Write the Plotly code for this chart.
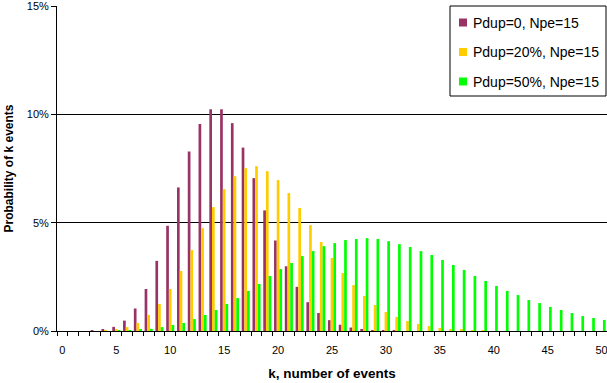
import plotly.graph_objects as go

# number of events k
k_values = list(range(0, 51))

# Probability (%) of k events
p_dup0 = [0, 0, 0, 0.02, 0.06, 0.19, 0.48, 1.04, 1.94, 3.24,
          4.86, 6.63, 8.29, 9.56, 10.24, 10.24, 9.60, 8.47, 7.06, 5.57,
          4.18, 2.99, 2.04, 1.33, 0.83, 0.50, 0.29, 0.16, 0.09, 0.04,
          0.02, 0.01, 0, 0, 0, 0, 0, 0, 0, 0,
          0, 0, 0, 0, 0, 0, 0, 0, 0, 0, 0]
p_dup20 = [0, 0, 0, 0, 0.01, 0.05, 0.18, 0.37, 0.74, 1.25,
           1.94, 2.77, 3.74, 4.75, 5.72, 6.55, 7.15, 7.52, 7.61, 7.38,
           6.97, 6.37, 5.68, 4.89, 4.11, 3.37, 2.68, 2.12, 1.62, 1.20,
           0.88, 0.65, 0.46, 0.32, 0.23, 0.14, 0.09, 0.05, 0.03, 0.01,
           0, 0, 0, 0, 0, 0, 0, 0, 0, 0, 0]
p_dup50 = [0, 0, 0, 0, 0, 0.01, 0.03, 0.05, 0.10, 0.18,
           0.28, 0.37, 0.55, 0.74, 0.97, 1.25, 1.52, 1.85, 2.17, 2.54,
           2.86, 3.14, 3.46, 3.69, 3.92, 4.06, 4.20, 4.25, 4.29, 4.25,
           4.15, 4.01, 3.88, 3.69, 3.51, 3.28, 3.05, 2.82, 2.54, 2.31,
           2.08, 1.85, 1.66, 1.43, 1.29, 1.11, 0.97, 0.83, 0.69, 0.60, 0.51]

series_names = ["Pdup=0, Npe=15", "Pdup=20%, Npe=15", "Pdup=50%, Npe=15"]
series_colors = ["#993366", "#FFCC00", "#00FF00"]
series_values = [p_dup0, p_dup20, p_dup50]

x_tick_vals = list(range(0, 51, 5))
y_tick_vals = [0, 5, 10, 15]
y_tick_text = ["0%", "5%", "10%", "15%"]

FONT = "Liberation Sans, Arial, sans-serif"

fig = go.Figure()
for name, color, vals in zip(series_names, series_colors, series_values):
    fig.add_bar(x=k_values, y=vals, name=name, marker_color=color,
                marker_line_width=0, showlegend=False)

# plot area geometry in pixels (for the hand-drawn legend box)
L, R, T, B = 57, 607, 6, 331
W, H = R - L, B - T
def px(x):
    return (x - L) / W
def py(y):
    return (B - y) / H

shapes = [dict(type="rect", xref="paper", yref="paper",
               x0=px(450), x1=px(606), y0=py(96), y1=py(6),
               line=dict(color="black", width=1), fillcolor="white", layer="above")]
annotations = []
row_centers = [22.5, 52, 81.5]
for name, color, yc in zip(series_names, series_colors, row_centers):
    shapes.append(dict(type="rect", xref="paper", yref="paper",
                       x0=px(459), x1=px(467), y0=py(yc + 4), y1=py(yc - 4),
                       line=dict(width=0), fillcolor=color, layer="above"))
    annotations.append(dict(text=name, xref="paper", yref="paper",
                            x=px(471), y=py(yc), xanchor="left", yanchor="middle",
                            showarrow=False, font=dict(family=FONT, size=14, color="black")))

fig.update_layout(
    width=607, height=383,
    margin=dict(l=L, r=607 - R, t=T, b=383 - B, autoexpand=False),
    paper_bgcolor="white", plot_bgcolor="white",
    barmode="group", bargap=0.25, bargroupgap=0,
    font=dict(family=FONT, color="black"),
    shapes=shapes, annotations=annotations,
    xaxis=dict(
        range=[-0.5, 50.5], tickmode="array", tickvals=x_tick_vals,
        ticks="", showline=True, linecolor="black", linewidth=1,
        showgrid=False, zeroline=False,
        tickfont=dict(size=11, family=FONT, color="black"),
        ticklabelstandoff=9, ticklabeloverflow="allow",
        minor=dict(tickmode="linear", tick0=-0.5, dtick=1, ticks="outside",
                   ticklen=4, tickcolor="black", tickwidth=1, showgrid=False),
        title=dict(text="k, number of events", standoff=13,
                   font=dict(size=13.5, family=FONT, color="black", weight="bold")),
        automargin=False,
    ),
    yaxis=dict(
        range=[0, 15.01], tickmode="array", tickvals=y_tick_vals, ticktext=y_tick_text,
        ticks="outside", ticklen=5, tickcolor="black",
        showline=True, linecolor="black", linewidth=1,
        showgrid=True, gridcolor="black", gridwidth=1, zeroline=False,
        tickfont=dict(size=11, family=FONT, color="black"),
        ticklabeloverflow="allow",
        title=dict(text="Probability of k events", standoff=10,
                   font=dict(size=12, family=FONT, color="black", weight="bold")),
        automargin=False,
    ),
)

fig.write_html("out.html", config={"displayModeBar": False},
               post_script="document.body.style.margin='0';document.body.style.overflow='hidden';")
